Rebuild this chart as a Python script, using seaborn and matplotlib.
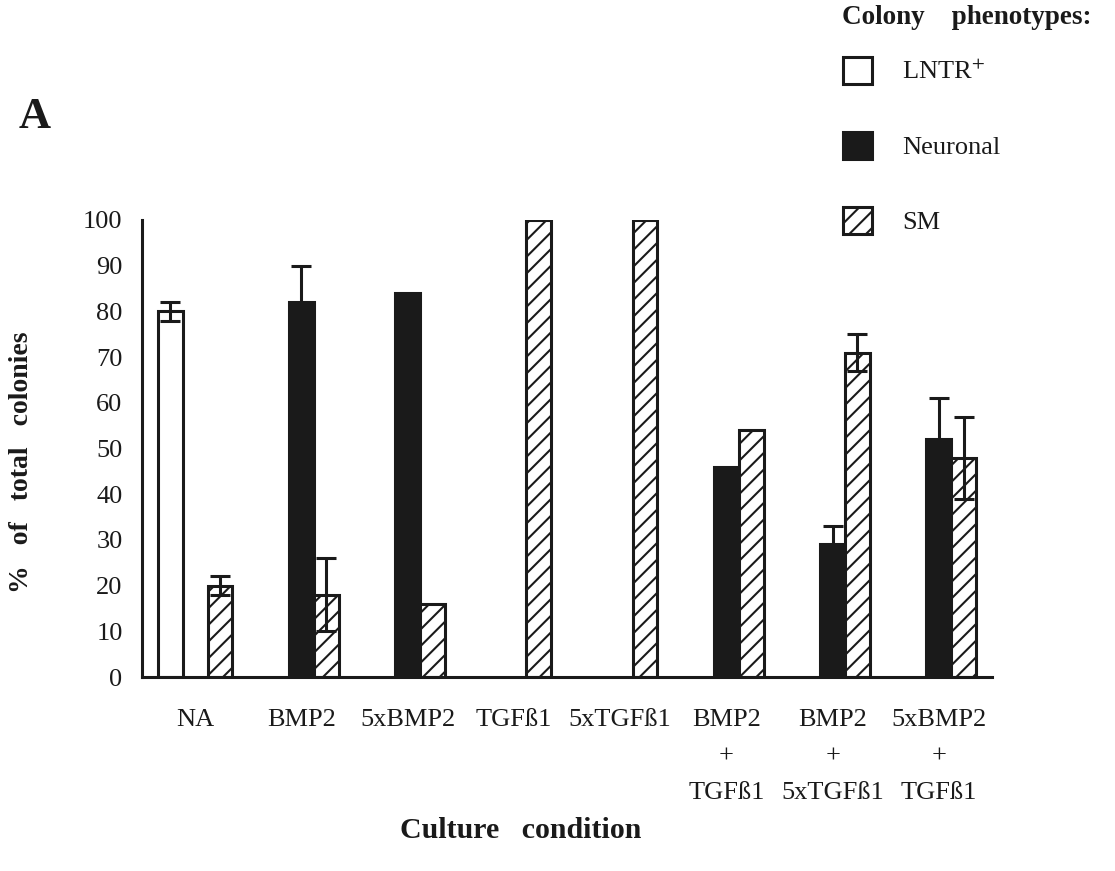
import matplotlib
matplotlib.use("Agg")
import matplotlib.pyplot as plt
import seaborn as sns
import pandas as pd
import numpy as np
from matplotlib.patches import Patch

# ---- data ----
conditions = ["NA", "BMP2", "5xBMP2", "TGFß1", "5xTGFß1",
              "BMP2\n+\nTGFß1", "BMP2\n+\n5xTGFß1", "5xBMP2\n+\nTGFß1"]
phenotypes = ["LNTR+", "Neuronal", "SM"]
lntr_vals = [80, 0, 0, 0, 0, 0, 0, 0]
lntr_err = [2, 0, 0, 0, 0, 0, 0, 0]
neuronal_vals = [0, 82, 84, 0, 0, 46, 29, 52]
neuronal_err = [0, 8, 0, 0, 0, 0, 4, 9]
sm_vals = [20, 18, 16, 100, 100, 54, 71, 48]
sm_err = [2, 8, 0, 0, 0, 0, 4, 9]
yticks = [0, 10, 20, 30, 40, 50, 60, 70, 80, 90, 100]

rows = []
for vals, errs, ph in [(lntr_vals, lntr_err, "LNTR+"),
                       (neuronal_vals, neuronal_err, "Neuronal"),
                       (sm_vals, sm_err, "SM")]:
    for c, v, e in zip(conditions, vals, errs):
        rows.append({"condition": c, "phenotype": ph, "value": v, "err": e})
df = pd.DataFrame(rows)

sns.set_theme(style="white")
plt.rcParams["font.family"] = ["Liberation Serif", "DejaVu Serif"]
plt.rcParams["mathtext.fontset"] = "stix"
plt.rcParams["hatch.linewidth"] = 1.5
plt.rcParams["hatch.color"] = "#1a1a1a"

ink = "#1a1a1a"
fig = plt.figure(figsize=(11.15, 8.71), dpi=100)
ax = fig.add_axes([142 / 1115, 1 - 677 / 871, (992 - 142) / 1115, (677 - 220) / 871])

sns.barplot(data=df, x="condition", y="value", hue="phenotype",
            order=conditions, hue_order=phenotypes,
            palette={"LNTR+": "white", "Neuronal": ink, "SM": "white"},
            edgecolor=ink, linewidth=2.2, width=0.7, errorbar=None,
            legend=False, ax=ax)

errs_by_hue = [lntr_err, neuronal_err, sm_err]
vals_by_hue = [lntr_vals, neuronal_vals, sm_vals]
bar_containers = list(ax.containers)
for hi, cont in enumerate(bar_containers):
    for bi, bar in enumerate(cont):
        v = vals_by_hue[hi][bi]
        e = errs_by_hue[hi][bi]
        if v == 0:
            bar.set_visible(False)
            continue
        if phenotypes[hi] == "SM":
            bar.set_hatch("//")
        if e > 0:
            xc = bar.get_x() + bar.get_width() / 2
            ax.errorbar(xc, v, yerr=e, fmt="none", ecolor=ink,
                        elinewidth=2.2, capsize=7.5, capthick=2.2, zorder=5)

ax.set_xlim(-0.5, 7.5)
ax.set_ylim(0, 100)
ax.set_yticks(yticks)
ax.set_yticklabels([str(t) for t in yticks])
ax.set_xlabel("")
ax.set_ylabel("")
for s in ["top", "right"]:
    ax.spines[s].set_visible(False)
for s in ["left", "bottom"]:
    ax.spines[s].set_linewidth(2.2)
    ax.spines[s].set_color(ink)
ax.tick_params(axis="both", direction="out", length=10, width=2.2, color=ink,
               labelsize=19, labelcolor=ink)
ax.tick_params(axis="x", pad=13)
ax.tick_params(axis="y", pad=4)
for lab in ax.get_xticklabels():
    lab.set_linespacing(1.85)
    lab.set_verticalalignment("top")
ax.set_axisbelow(False)

fig.text(22 / 1115, 1 - 462 / 871, "%   of   total   colonies", rotation=90,
         fontsize=20, fontweight="bold", color=ink, ha="center", va="center")
fig.text(521 / 1115, 1 - 830 / 871, "Culture   condition", fontsize=21.5,
         fontweight="bold", color=ink, ha="center", va="center")
fig.text(35 / 1115, 1 - 117 / 871, "A", fontsize=32, fontweight="bold",
         color=ink, ha="center", va="center")
fig.text(842 / 1115, 1 - 18 / 871, "Colony    phenotypes:", fontsize=19.5,
         fontweight="bold", color=ink, ha="left", va="center")

handles = [Patch(facecolor="white", edgecolor=ink, linewidth=2.2),
           Patch(facecolor=ink, edgecolor=ink, linewidth=2.2),
           Patch(facecolor="white", edgecolor=ink, linewidth=2.2, hatch="//")]
leg = fig.legend(handles, ["LNTR$^{+}$", "Neuronal", "SM"],
                 loc="upper left",
                 bbox_to_anchor=(843 / 1115, 1 - 57 / 871), frameon=False,
                 fontsize=19, handlelength=1.1, handleheight=1.2,
                 handletextpad=1.15, labelspacing=1.8, alignment="left",
                 borderaxespad=0, borderpad=0)
for t in leg.get_texts():
    t.set_color(ink)

fig.savefig("out.png", dpi=100, facecolor="white")
